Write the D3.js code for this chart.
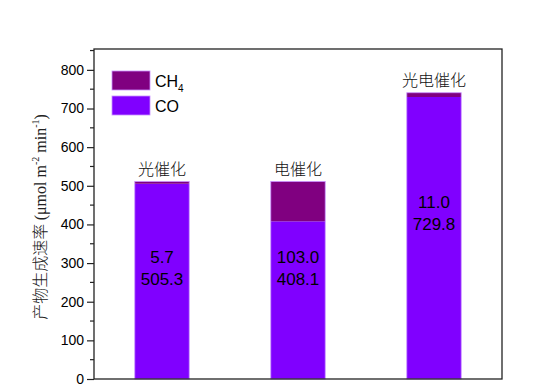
<!DOCTYPE html>
<html><head><meta charset="utf-8">
<script src="https://cdn.jsdelivr.net/npm/d3@7"></script>
<style>body{margin:0;background:#fff}svg{display:block}</style>
</head><body>
<svg id="c" width="550" height="389"></svg>
<script>
const categories = ["光催化", "电催化", "光电催化"];
const coValues = [505.3, 408.1, 729.8];
const ch4Values = [5.7, 103.0, 11.0];
const yTicks = [0, 100, 200, 300, 400, 500, 600, 700, 800];
const seriesNames = ["CH4", "CO"];

const svg = d3.select("#c");
const L = 94, R = 502, T = 49, B = 379;
const x = d3.scaleBand().domain(categories).range([L, R]).paddingInner(0.6).paddingOuter(0.3);
const y = d3.scaleLinear().domain([0, 854]).range([B, T]);
const colCO = "#8000FF", colCH4 = "#800080";

const data = categories.map((c, i) => ({cat: c, CO: coValues[i], CH4: ch4Values[i]}));
const stack = d3.stack().keys(["CO", "CH4"])(data);

// bars
stack.forEach(layer => {
  svg.append("g").selectAll("rect").data(layer).enter().append("rect")
    .attr("x", d => x(d.data.cat))
    .attr("width", x.bandwidth())
    .attr("y", d => y(d[1]))
    .attr("height", d => y(d[0]) - y(d[1]))
    .attr("fill", layer.key === "CO" ? colCO : colCH4);
});
// bar outlines
svg.append("g").selectAll("rect").data(data).enter().append("rect")
  .attr("x", d => x(d.cat)).attr("width", x.bandwidth())
  .attr("y", d => y(d.CO + d.CH4)).attr("height", d => y(0) - y(d.CO + d.CH4))
  .attr("fill", "none").attr("stroke", "#c890ff").attr("stroke-width", 0.8);

// frame
svg.append("rect").attr("x", L).attr("y", T).attr("width", R - L).attr("height", B - T)
  .attr("fill", "none").attr("stroke", "#222").attr("stroke-width", 1.3);

// y axis
const yAxis = svg.append("g").attr("transform", `translate(${L},0)`)
  .call(d3.axisLeft(y).tickValues(yTicks).tickSize(7).tickPadding(3).tickFormat(d3.format("d")));
yAxis.select(".domain").remove();
yAxis.selectAll("line").attr("stroke", "#222").attr("stroke-width", 1.2);
yAxis.selectAll("text").attr("font-family", "Liberation Sans, Arial").attr("font-size", 14).attr("fill", "#000");
// minor ticks
const minor = d3.range(50, 854, 100);
svg.append("g").selectAll("line").data(minor).enter().append("line")
  .attr("x1", L - 4).attr("x2", L).attr("y1", d => y(d)).attr("y2", d => y(d))
  .attr("stroke", "#222").attr("stroke-width", 1.2);

// y title
const yt = svg.append("text").attr("transform", `translate(46,${(T + B) / 2 + 3}) rotate(-90)`)
  .attr("text-anchor", "middle").attr("font-size", 16).attr("fill", "#222");
yt.append("tspan").attr("font-family", "Noto Sans CJK SC").attr("font-weight", 300).text("产物生成速率 ");
yt.append("tspan").attr("font-family", "Liberation Serif").text("(μmol m");
yt.append("tspan").attr("font-family", "Liberation Serif").attr("font-size", 10).attr("dy", -7).text("-2");
yt.append("tspan").attr("font-family", "Liberation Serif").attr("dy", 7).text(" min");
yt.append("tspan").attr("font-family", "Liberation Serif").attr("font-size", 10).attr("dy", -7).text("-1");
yt.append("tspan").attr("font-family", "Liberation Serif").attr("dy", 7).text(")");

// category labels above bars
svg.append("g").selectAll("text").data(data).enter().append("text")
  .attr("x", d => x(d.cat) + x.bandwidth() / 2)
  .attr("y", d => y(d.CO + d.CH4) - 7)
  .attr("text-anchor", "middle").attr("font-family", "Noto Sans CJK SC").attr("font-weight", 300)
  .attr("font-size", 16).attr("fill", "#111").text(d => d.cat);

// value labels
const vl = svg.append("g").selectAll("text").data(data).enter().append("text")
  .attr("text-anchor", "middle").attr("font-family", "Liberation Sans, Arial").attr("font-size", 17).attr("fill", "#000");
vl.append("tspan").attr("x", d => x(d.cat) + x.bandwidth() / 2)
  .attr("y", d => y((d.CO + d.CH4) * 0.62) + 6).text(d => d.CH4.toFixed(1));
vl.append("tspan").attr("x", d => x(d.cat) + x.bandwidth() / 2)
  .attr("dy", 22).text(d => d.CO.toFixed(1));

// legend
const lg = svg.append("g");
seriesNames.forEach((s, i) => {
  const yy = 71 + i * 25;
  lg.append("rect").attr("x", 112).attr("y", yy).attr("width", 38).attr("height", 19)
    .attr("fill", s === "CO" ? colCO : colCH4).attr("stroke", "#c890ff").attr("stroke-width", 0.8);
  const t = lg.append("text").attr("x", 155).attr("y", yy + 16).attr("font-family", "Liberation Sans, Arial")
    .attr("font-size", 16).attr("fill", "#000");
  if (s === "CH4") { t.append("tspan").text("CH"); t.append("tspan").attr("font-size", 10).attr("dy", 5).text("4"); }
  else t.text(s);
});
</script>
</body></html>
